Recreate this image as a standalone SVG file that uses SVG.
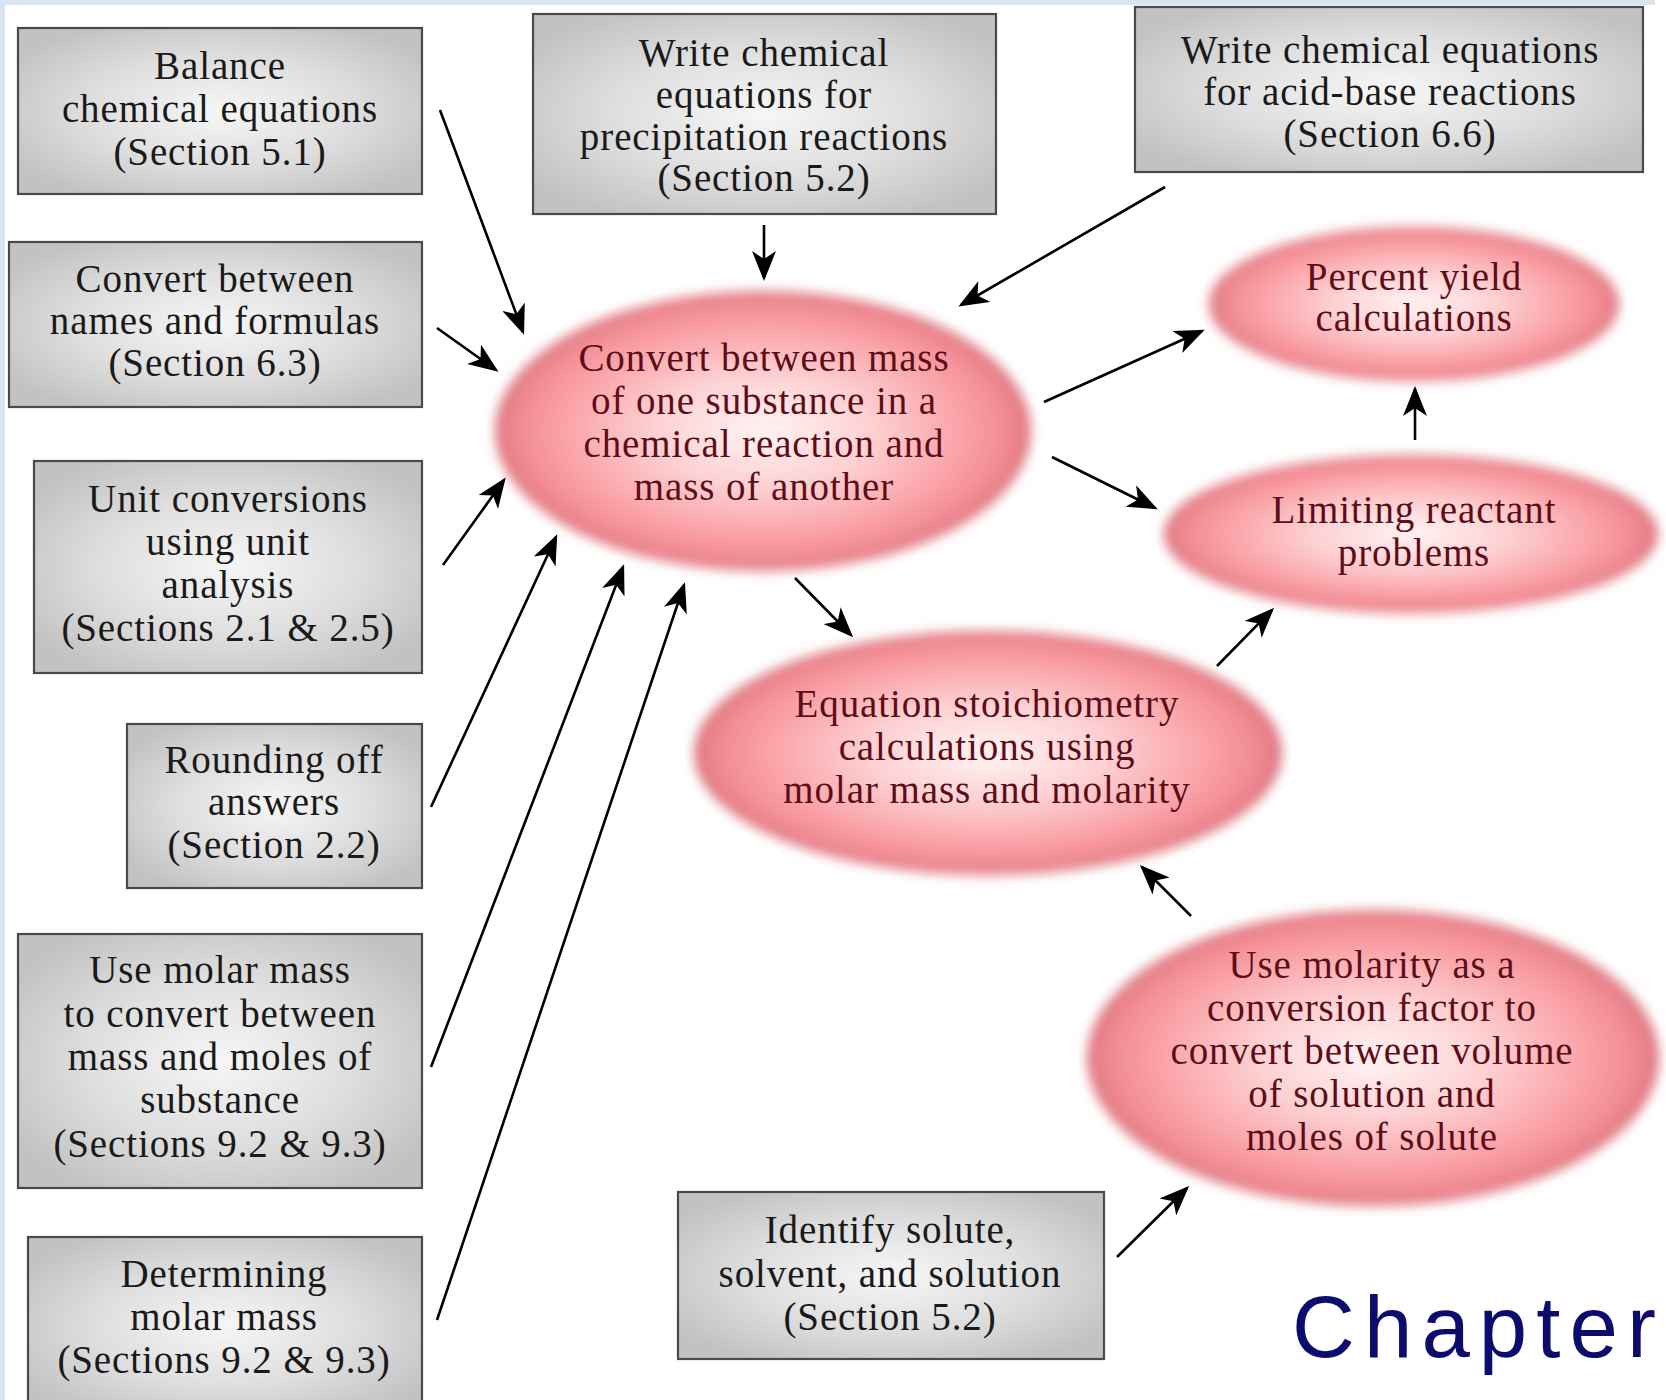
<svg xmlns="http://www.w3.org/2000/svg" width="1666" height="1400" viewBox="0 0 1666 1400">
  <defs>
    <radialGradient id="boxFill" cx="0.5" cy="0.5" r="0.6">
      <stop offset="0" stop-color="#f6f6f6"/>
      <stop offset="0.55" stop-color="#dedede"/>
      <stop offset="1" stop-color="#c2c2c2"/>
    </radialGradient>
    <radialGradient id="pinkFill" cx="0.5" cy="0.5" r="0.5">
      <stop offset="0" stop-color="#fff3f3"/>
      <stop offset="0.4" stop-color="#fdd1d3"/>
      <stop offset="0.78" stop-color="#f99ea3"/>
      <stop offset="0.93" stop-color="#f08890"/>
      <stop offset="1" stop-color="#d9737c"/>
    </radialGradient>
    <filter id="soft" x="-10%" y="-15%" width="120%" height="130%">
      <feGaussianBlur stdDeviation="6"/>
    </filter>
    <marker id="arr" viewBox="0 0 30 24" refX="27" refY="12" markerWidth="30" markerHeight="24" markerUnits="userSpaceOnUse" orient="auto">
      <path d="M0,0 L30,12 L0,24 L8,12 z" fill="#000"/>
    </marker>
    <style>
      .box rect { fill: url(#boxFill); stroke: #4a4a4a; stroke-width: 2.2; }
      .oval ellipse { fill: url(#pinkFill); filter: url(#soft); }
      .bt { font-family: "Liberation Serif", "Times New Roman", serif; font-size: 39px; fill: #1a1a1a; text-anchor: middle; letter-spacing: 0.9px; }
      .et { font-family: "Liberation Serif", "Times New Roman", serif; font-size: 39px; fill: #5e0d18; text-anchor: middle; letter-spacing: 0.9px; }
      .conn line { stroke: #000; stroke-width: 2.6; fill: none; marker-end: url(#arr); }
    </style>
  </defs>

  <!-- page background with thin tinted edges -->
  <rect x="0" y="0" width="1666" height="1400" fill="#ffffff"/>
  <rect x="0" y="0" width="1655" height="5" fill="#d9e4f0"/>
  <rect x="0" y="0" width="5" height="1400" fill="#d9e4f0"/>

  <!-- prerequisite skill boxes -->
  <g id="balance" class="box">
    <rect x="18" y="28" width="404" height="166"/>
    <text class="bt" x="220" y="79">Balance</text>
    <text class="bt" x="220" y="122">chemical equations</text>
    <text class="bt" x="220" y="165">(Section 5.1)</text>
  </g>
  <g id="names-formulas" class="box">
    <rect x="9" y="242" width="413" height="165"/>
    <text class="bt" x="215" y="292">Convert between</text>
    <text class="bt" x="215" y="334">names and formulas</text>
    <text class="bt" x="215" y="376">(Section 6.3)</text>
  </g>
  <g id="unit-conversions" class="box">
    <rect x="34" y="461" width="388" height="212"/>
    <text class="bt" x="228" y="512">Unit conversions</text>
    <text class="bt" x="228" y="555">using unit</text>
    <text class="bt" x="228" y="598">analysis</text>
    <text class="bt" x="228" y="641">(Sections 2.1 &amp; 2.5)</text>
  </g>
  <g id="rounding" class="box">
    <rect x="127" y="724" width="295" height="164"/>
    <text class="bt" x="274" y="773">Rounding off</text>
    <text class="bt" x="274" y="815">answers</text>
    <text class="bt" x="274" y="858">(Section 2.2)</text>
  </g>
  <g id="molar-mass-use" class="box">
    <rect x="18" y="934" width="404" height="254"/>
    <text class="bt" x="220" y="983">Use molar mass</text>
    <text class="bt" x="220" y="1027">to convert between</text>
    <text class="bt" x="220" y="1070">mass and moles of</text>
    <text class="bt" x="220" y="1113">substance</text>
    <text class="bt" x="220" y="1157">(Sections 9.2 &amp; 9.3)</text>
  </g>
  <g id="molar-mass-find" class="box">
    <rect x="28" y="1237" width="394" height="180"/>
    <text class="bt" x="224" y="1287">Determining</text>
    <text class="bt" x="224" y="1330">molar mass</text>
    <text class="bt" x="224" y="1373">(Sections 9.2 &amp; 9.3)</text>
  </g>
  <g id="precipitation" class="box">
    <rect x="533" y="14" width="463" height="200"/>
    <text class="bt" x="764" y="66">Write chemical</text>
    <text class="bt" x="764" y="108">equations for</text>
    <text class="bt" x="764" y="150">precipitation reactions</text>
    <text class="bt" x="764" y="191">(Section 5.2)</text>
  </g>
  <g id="acid-base" class="box">
    <rect x="1135" y="7" width="508" height="165"/>
    <text class="bt" x="1390" y="63">Write chemical equations</text>
    <text class="bt" x="1390" y="105">for acid-base reactions</text>
    <text class="bt" x="1390" y="147">(Section 6.6)</text>
  </g>
  <g id="solutions" class="box">
    <rect x="678" y="1192" width="426" height="167"/>
    <text class="bt" x="890" y="1243">Identify solute,</text>
    <text class="bt" x="890" y="1287">solvent, and solution</text>
    <text class="bt" x="890" y="1330">(Section 5.2)</text>
  </g>

  <!-- calculation skills (ovals) -->
  <g id="mass-to-mass" class="oval">
    <ellipse cx="763" cy="431" rx="268" ry="140"/>
    <text class="et" x="764" y="371">Convert between mass</text>
    <text class="et" x="764" y="414">of one substance in a</text>
    <text class="et" x="764" y="457">chemical reaction and</text>
    <text class="et" x="764" y="500">mass of another</text>
  </g>
  <g id="percent-yield" class="oval">
    <ellipse cx="1414" cy="304" rx="205" ry="77"/>
    <text class="et" x="1414" y="290">Percent yield</text>
    <text class="et" x="1414" y="331">calculations</text>
  </g>
  <g id="limiting-reactant" class="oval">
    <ellipse cx="1411" cy="534" rx="247" ry="79"/>
    <text class="et" x="1414" y="523">Limiting reactant</text>
    <text class="et" x="1414" y="566">problems</text>
  </g>
  <g id="equation-stoichiometry" class="oval">
    <ellipse cx="988" cy="753" rx="294" ry="122"/>
    <text class="et" x="987" y="717">Equation stoichiometry</text>
    <text class="et" x="987" y="760">calculations using</text>
    <text class="et" x="987" y="803">molar mass and molarity</text>
  </g>
  <g id="molarity" class="oval">
    <ellipse cx="1373" cy="1058" rx="286" ry="148"/>
    <text class="et" x="1372" y="978">Use molarity as a</text>
    <text class="et" x="1372" y="1021">conversion factor to</text>
    <text class="et" x="1372" y="1064">convert between volume</text>
    <text class="et" x="1372" y="1107">of solution and</text>
    <text class="et" x="1372" y="1150">moles of solute</text>
  </g>

  <!-- connectors -->
  <g id="connectors" class="conn">
    <line x1="440" y1="110" x2="523" y2="332"/>
    <line x1="437" y1="328" x2="496" y2="370"/>
    <line x1="443" y1="565" x2="504" y2="480"/>
    <line x1="431" y1="807" x2="556" y2="537"/>
    <line x1="431" y1="1067" x2="623" y2="567"/>
    <line x1="437" y1="1320" x2="684" y2="585"/>
    <line x1="764" y1="225" x2="764" y2="278"/>
    <line x1="1165" y1="187" x2="961" y2="305"/>
    <line x1="1044" y1="402" x2="1202" y2="331"/>
    <line x1="1052" y1="457" x2="1155" y2="508"/>
    <line x1="1415" y1="440" x2="1415" y2="389"/>
    <line x1="795" y1="578" x2="851" y2="635"/>
    <line x1="1217" y1="666" x2="1272" y2="610"/>
    <line x1="1191" y1="916" x2="1142" y2="867"/>
    <line x1="1117" y1="1257" x2="1187" y2="1188"/>
  </g>

  <!-- footer caption -->
  <text x="1292" y="1357" textLength="364" font-family="'Liberation Sans', Arial, sans-serif" font-size="87" fill="#0c0c6e">Chapter</text>
</svg>
